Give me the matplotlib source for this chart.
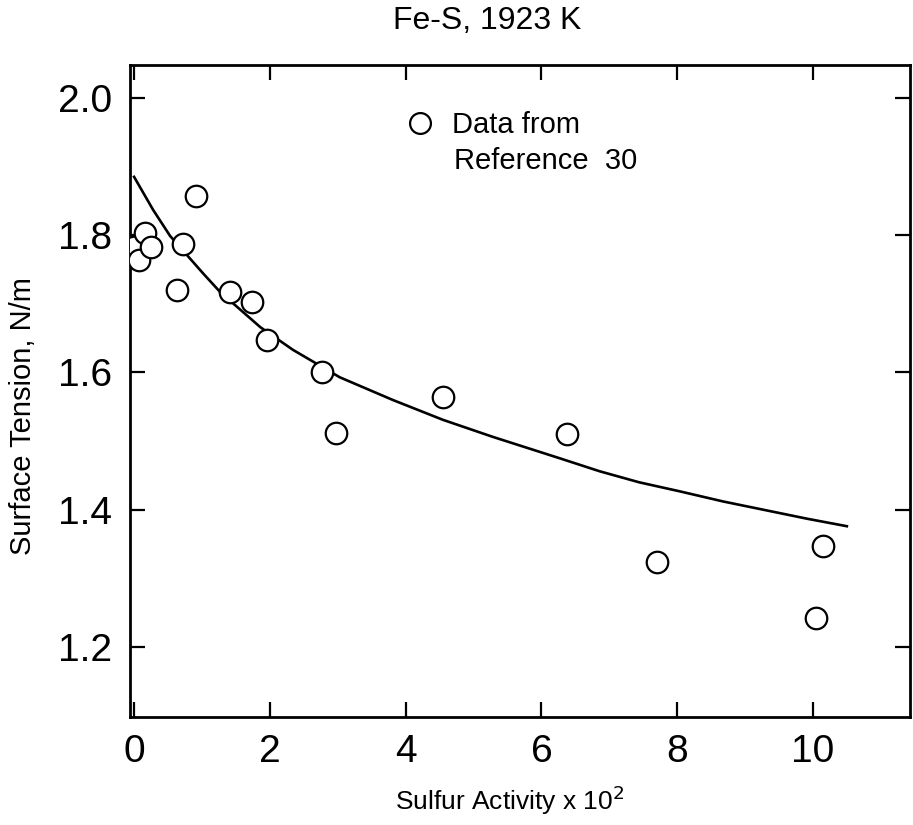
import numpy as np
import matplotlib
matplotlib.use("Agg")
import matplotlib.pyplot as plt
from matplotlib.lines import Line2D

plt.rcParams['font.family'] = ['Liberation Sans', 'DejaVu Sans']

# punkty pomiarowe
akt = [0.0, 0.07, 0.16, 0.25, 0.63, 0.72, 0.91, 1.41, 1.74, 1.96,
       2.77, 2.98, 4.55, 6.38, 7.70, 10.04, 10.15]
sig = [1.783, 1.764, 1.803, 1.783, 1.720, 1.787, 1.857, 1.717, 1.703, 1.647,
       1.601, 1.512, 1.564, 1.510, 1.324, 1.242, 1.347]

# krzywa dopasowania
krz_x = [0.0, 0.28, 0.53, 1.02, 1.27, 1.86, 2.34, 3.03, 3.81, 4.55,
         5.29, 6.27, 6.86, 7.44, 8.03, 8.68, 9.32, 9.91, 10.5]
krz_y = [1.885, 1.837, 1.799, 1.744, 1.717, 1.666, 1.633, 1.593, 1.560, 1.531,
         1.506, 1.475, 1.456, 1.440, 1.427, 1.412, 1.399, 1.387, 1.376]

xt = [0, 2, 4, 6, 8, 10]
yt = [1.2, 1.4, 1.6, 1.8, 2.0]

fig = plt.figure(figsize=(9.13, 8.25), dpi=100)
ax = fig.add_axes([0.1424, 0.1309, 0.8543, 0.7903])

ax.plot(krz_x, krz_y, c='k', lw=1.9, zorder=2)
ax.plot(akt, sig, ls='none', marker='o', ms=15.5, mfc='white', mec='k', mew=1.6, zorder=3)

ax.set_xlim(-0.06, 11.43)
ax.set_ylim(1.098, 2.048)
ax.set_xticks(xt)
ax.set_yticks(yt)
ax.set_xticklabels([str(v) for v in xt], fontsize=28)
ax.set_yticklabels([f"{v:.1f}" for v in yt], fontsize=28)
ax.tick_params(direction='in', length=11, width=1.6, top=True, right=True)
ax.tick_params(axis='x', pad=12)
ax.tick_params(axis='y', pad=13)
for s in ax.spines.values():
    s.set_linewidth(2.0)

ax.set_xlabel(r"Sulfur Activity x 10$^2$", fontsize=19)
ax.xaxis.set_label_coords(0.487, -0.102)
ax.set_ylabel("Surface Tension, N/m", fontsize=21)
ax.yaxis.set_label_coords(-0.119, 0.462)
fig.text(0.534, 0.975, "Fe-S, 1923 K", ha='center', va='center', fontsize=23)

uchwyt = Line2D([], [], ls='none', marker='o', ms=15, mfc='white', mec='k', mew=1.6)
ax.legend([uchwyt], ["Data from"], loc='center left', bbox_to_anchor=(0.353, 0.908),
          frameon=False, fontsize=21, handletextpad=0.6, handlelength=1.0,
          borderpad=0, borderaxespad=0)
ax.text(0.415, 0.853, "Reference  30", transform=ax.transAxes, fontsize=21,
        ha='left', va='center')

plt.savefig("out.png", dpi=100)
plt.close()
